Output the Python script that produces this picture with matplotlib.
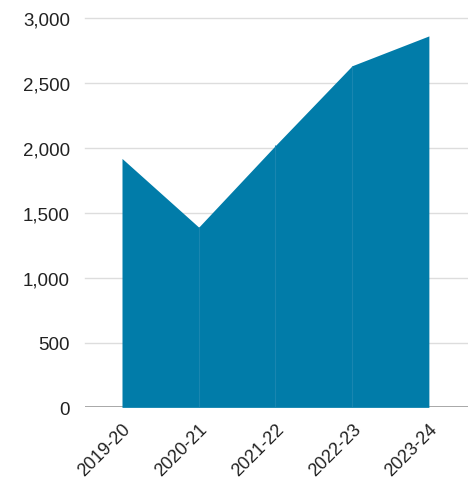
import numpy as np
import matplotlib.pyplot as plt
from matplotlib.transforms import ScaledTranslation

years = ["2019-20", "2020-21", "2021-22", "2022-23", "2023-24"]
values = [1920, 1390, 2020, 2635, 2865]
yticks = [0, 500, 1000, 1500, 2000, 2500, 3000]

plt.rcParams['font.family'] = ['Liberation Sans', 'DejaVu Sans']

fig = plt.figure(figsize=(4.68, 4.85), dpi=100)
ax = fig.add_axes([0.182, 0.158, 0.818, 0.802])

x = np.arange(len(years))
ax.fill_between(x, 0, values, color="#017ca9", linewidth=0, zorder=2)
# faint seams between segments
ax.vlines(x[1:-1], 0, values[1:-1], color="#1986b0", linewidth=0.8, zorder=3)

ax.set_xlim(-0.48, 4.51)
ax.set_ylim(0, 3000)
ax.set_yticks(yticks)
ax.set_yticklabels([f"{v:,}" for v in yticks], fontsize=13.5, color="#222222")
ax.set_xticks(x)
ax.set_xticklabels(years, fontsize=13, color="#222222", rotation=45,
                   ha="right", rotation_mode="anchor")
shift = ScaledTranslation(4 / 100, 0, fig.dpi_scale_trans)
for lbl in ax.get_xticklabels():
    lbl.set_transform(lbl.get_transform() + shift)

for v in yticks[1:]:
    ax.axhline(v, color="#dddddd", linewidth=1, zorder=1, clip_on=False)
ax.axhline(0, color="#999999", linewidth=1.2, zorder=1)

for s in ax.spines.values():
    s.set_visible(False)
ax.tick_params(axis="both", length=0)
ax.tick_params(axis="y", pad=11)
ax.tick_params(axis="x", pad=9)

fig.savefig("out.png", dpi=100)
